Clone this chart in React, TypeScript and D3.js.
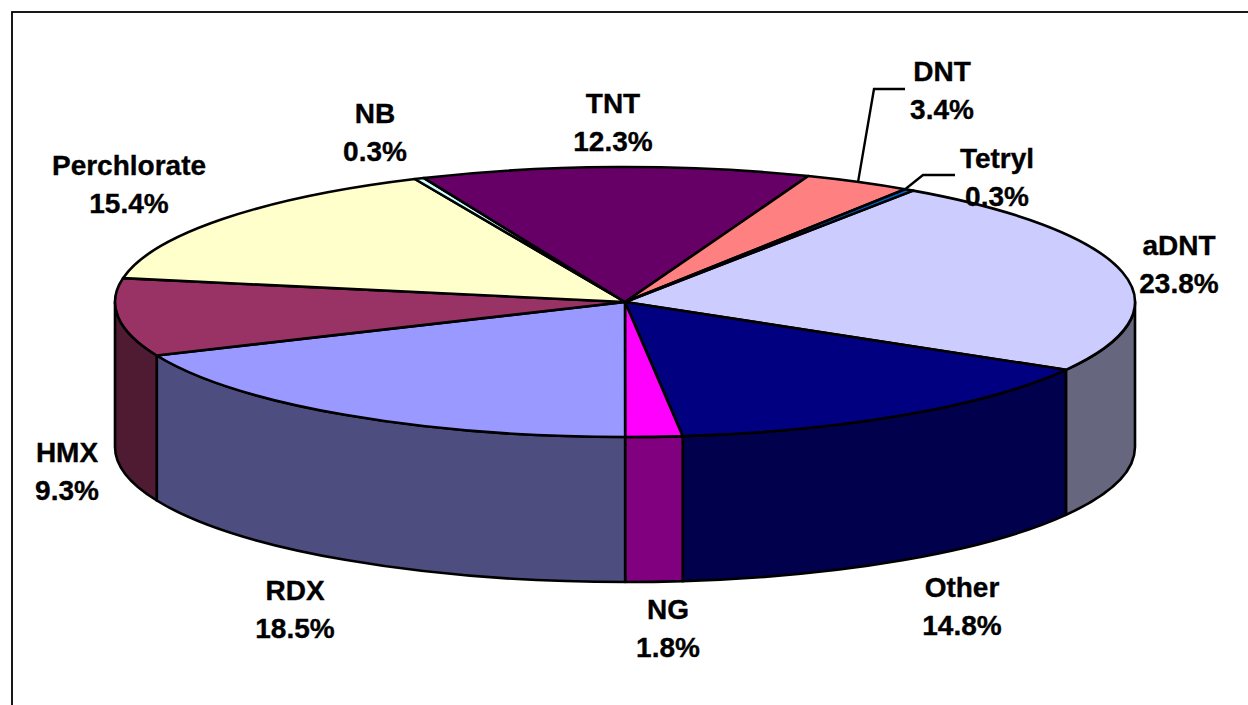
import * as React from "react";
import * as d3 from "d3";

const categories = ["aDNT", "Other", "NG", "RDX", "HMX", "Perchlorate", "NB", "TNT", "DNT", "Tetryl"];
const shares = [23.8, 14.8, 1.8, 18.5, 9.3, 15.4, 0.3, 12.3, 3.4, 0.3];
const topColors = ["#ccccff", "#000080", "#ff00ff", "#9999ff", "#993366", "#ffffcc", "#ccffff", "#660066", "#ff8080", "#0066cc"];
const wallColors = ["#66667f", "#00004d", "#800080", "#4d4d7f", "#4f1b33", "#7f7f66", "#667f7f", "#330033", "#7f4040", "#003366"];

// label centres (first line baseline is derived from these)
const labelPos = [
  [1179, 245], [962, 587], [668, 609], [295, 590], [67, 452],
  [129, 165], [375, 113], [613, 103], [942, 71], [997, 158],
];
// where a leader leaves its slice (fraction of the slice's sweep) and its elbow
const leaders: Record<string, { along: number; tail: [number, number][] }> = {
  DNT: { along: 0.5, tail: [[874, 89], [905, 89]] },
  Tetryl: { along: 0, tail: [[923, 175], [955, 175]] },
};

const width = 1248;
const height = 705;
const cx = 625;
const cy = 302;
const rx = 510;
const ry = 135;
const depth = 145;
const startDeg = 34.4;
const edge = 2.6;

const rad = (d: number) => (d * Math.PI) / 180;
const point = (t: number, dy = 0) => [cx + rx * Math.sin(t), cy - ry * Math.cos(t) + dy];

export default function App() {
  const pie = d3.pie<number>()
    .sort(null)
    .startAngle(rad(startDeg))
    .endAngle(rad(startDeg + 360));
  const slices = pie(shares);
  const arc = d3.arc<d3.PieArcDatum<number>>().innerRadius(0).outerRadius(rx);

  // side wall: only the part of a slice facing the viewer (90deg..270deg)
  const wall = (s: d3.PieArcDatum<number>) => {
    const a = Math.max(s.startAngle, Math.PI / 2);
    const b = Math.min(s.endAngle, (3 * Math.PI) / 2);
    if (b <= a) return null;
    const [x0, y0] = point(a);
    const [x1, y1] = point(b);
    return `M${x0},${y0}A${rx},${ry} 0 0 1 ${x1},${y1}L${x1},${y1 + depth}A${rx},${ry} 0 0 0 ${x0},${y0 + depth}Z`;
  };

  const line = d3.line();

  return (
    <svg
      width={width}
      height={height}
      style={{ position: "fixed", left: 0, top: 0, background: "#fff" }}
      fontFamily="'Liberation Sans', Arial, sans-serif"
    >
      <rect x={12} y={12} width={width + 20} height={height + 20} fill="#fff" stroke="#000" strokeWidth={1.8} />

      {slices.map((s, i) => {
        const d = wall(s);
        return d ? <path key={categories[i]} d={d} fill={wallColors[i]} stroke="#000" strokeWidth={edge} strokeLinejoin="round" /> : null;
      })}

      <g transform={`translate(${cx},${cy}) scale(1,${ry / rx})`}>
        {slices.map((s, i) => (
          <path
            key={categories[i]}
            d={arc(s) ?? ""}
            fill={topColors[i]}
            stroke="#000"
            strokeWidth={edge}
            strokeLinejoin="round"
            vectorEffect="non-scaling-stroke"
          />
        ))}
      </g>

      {slices.map((s, i) => {
        const lead = leaders[categories[i]];
        if (!lead) return null;
        const from = point(s.startAngle + (s.endAngle - s.startAngle) * lead.along) as [number, number];
        return <path key={categories[i]} d={line([from, ...lead.tail]) ?? ""} fill="none" stroke="#000" strokeWidth={2.4} />;
      })}

      {categories.map((c, i) => (
        <text key={c} textAnchor="middle" fontSize={28} fontWeight="bold" fill="#000" stroke="#000" strokeWidth={0.35}>
          <tspan x={labelPos[i][0]} y={labelPos[i][1] + 10}>{c}</tspan>
          <tspan x={labelPos[i][0]} y={labelPos[i][1] + 47.5}>{d3.format(".1f")(shares[i])}%</tspan>
        </text>
      ))}
    </svg>
  );
}
